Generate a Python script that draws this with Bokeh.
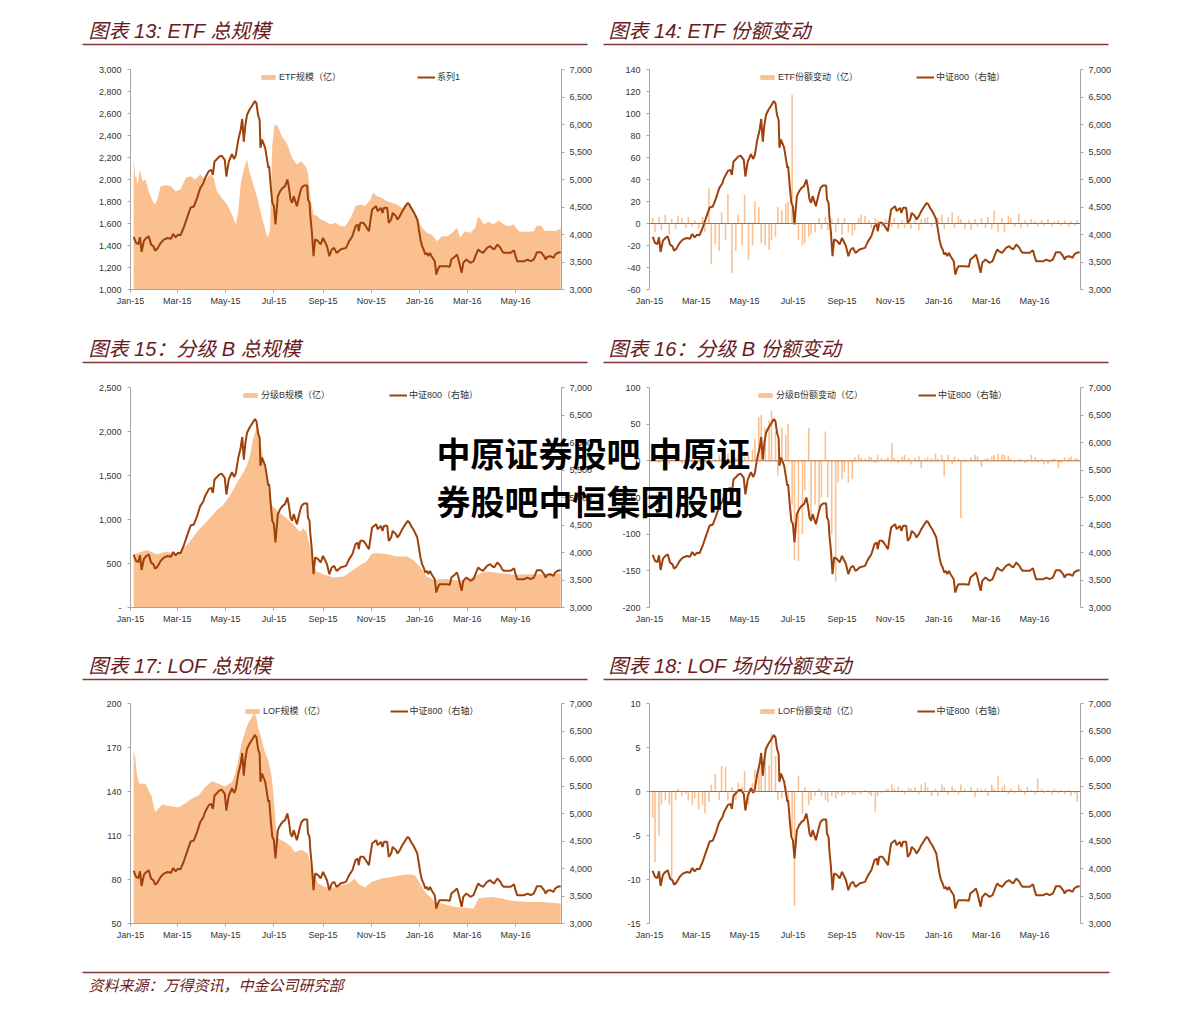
import pandas as pd
from bokeh.plotting import figure
from bokeh.layouts import column, row
from bokeh.models import (Range1d, LinearAxis, FixedTicker, DatetimeTickFormatter,
                          NumeralTickFormatter, Legend, LegendItem, Label, Span)
from bokeh.embed import file_html
from bokeh.resources import INLINE

# ---------------------------------------------------------------- data
tick_dates = ["2015-01-01", "2015-03-01", "2015-05-01", "2015-07-01", "2015-09-01",
              "2015-11-01", "2016-01-01", "2016-03-01", "2016-05-01"]

titles = ["图表 13: ETF 总规模", "图表 14: ETF 份额变动",
          "图表 15：分级 B 总规模", "图表 16：分级 B 份额变动",
          "图表 17: LOF 总规模", "图表 18: LOF 场内份额变动"]
legend_labels = [("ETF规模（亿）", "系列1"),
                 ("ETF份额变动（亿）", "中证800（右轴）"),
                 ("分级B规模（亿）", "中证800（右轴）"),
                 ("分级B份额变动（亿）", "中证800（右轴）"),
                 ("LOF规模（亿）", "中证800（右轴）"),
                 ("LOF份额变动（亿）", "中证800（右轴）")]
source_note = "资料来源：万得资讯，中金公司研究部"
watermark = ["中原证券股吧 中原证", "券股吧中恒集团股吧"]

right_ticks = [3000, 3500, 4000, 4500, 5000, 5500, 6000, 6500, 7000]
ticks_13 = [1000, 1200, 1400, 1600, 1800, 2000, 2200, 2400, 2600, 2800, 3000]
ticks_14 = [-60, -40, -20, 0, 20, 40, 60, 80, 100, 120, 140]
ticks_15 = [0, 500, 1000, 1500, 2000, 2500]
ticks_16 = [-200, -150, -100, -50, 0, 50, 100]
ticks_17 = [50, 80, 110, 140, 170, 200]
ticks_18 = [-15, -10, -5, 0, 5, 10]

# 中证800 (right axis)
csi800 = [
    ("2015-01-05", 3955), ("2015-01-08", 3846), ("2015-01-11", 3828), ("2015-01-13", 3949),
    ("2015-01-15", 3683), ("2015-01-18", 3888), ("2015-01-21", 3937), ("2015-01-24", 3967),
    ("2015-01-27", 3816), ("2015-01-30", 3785), ("2015-02-01", 3707), ("2015-02-04", 3743),
    ("2015-02-08", 3846), ("2015-02-12", 3906), ("2015-02-17", 3937), ("2015-02-21", 3924),
    ("2015-02-24", 4009), ("2015-02-27", 3949), ("2015-03-02", 3997), ("2015-03-05", 3985),
    ("2015-03-09", 4118), ("2015-03-14", 4329), ("2015-03-18", 4492), ("2015-03-22", 4510),
    ("2015-03-26", 4662), ("2015-03-30", 4843), ("2015-04-03", 4933), ("2015-04-05", 5024),
    ("2015-04-10", 5157), ("2015-04-13", 5175), ("2015-04-15", 5084), ("2015-04-17", 5326),
    ("2015-04-20", 5368), ("2015-04-23", 5417), ("2015-04-26", 5435), ("2015-04-30", 5356),
    ("2015-05-02", 5054), ("2015-05-05", 5326), ("2015-05-09", 5459), ("2015-05-12", 5374),
    ("2015-05-14", 5447), ("2015-05-17", 5719), ("2015-05-20", 5900), ("2015-05-22", 6100),
    ("2015-05-24", 5689), ("2015-05-26", 5991), ("2015-05-28", 6172), ("2015-05-31", 6263),
    ("2015-06-04", 6353), ("2015-06-07", 6426), ("2015-06-09", 6384), ("2015-06-11", 6172),
    ("2015-06-13", 6081), ("2015-06-14", 5576), ("2015-06-16", 5727), ("2015-06-20", 5576),
    ("2015-06-24", 5212), ("2015-06-25", 5242), ("2015-06-27", 4879), ("2015-06-29", 4576),
    ("2015-07-01", 4515), ("2015-07-03", 4182), ("2015-07-06", 4697), ("2015-07-09", 4788),
    ("2015-07-12", 4849), ("2015-07-15", 4879), ("2015-07-18", 5000), ("2015-07-20", 4849),
    ("2015-07-22", 4636), ("2015-07-24", 4576), ("2015-07-26", 4697), ("2015-07-28", 4606),
    ("2015-07-30", 4515), ("2015-08-01", 4636), ("2015-08-03", 4758), ("2015-08-05", 4849),
    ("2015-08-08", 4891), ("2015-08-12", 4891), ("2015-08-13", 4636), ("2015-08-15", 4576),
    ("2015-08-16", 4333), ("2015-08-18", 4030), ("2015-08-20", 3606), ("2015-08-22", 3909),
    ("2015-08-26", 3878), ("2015-08-29", 3818), ("2015-09-01", 3939), ("2015-09-03", 3878),
    ("2015-09-06", 3788), ("2015-09-09", 3606), ("2015-09-12", 3727), ("2015-09-15", 3757),
    ("2015-09-18", 3667), ("2015-09-21", 3697), ("2015-09-23", 3727), ("2015-09-30", 3757),
    ("2015-10-04", 3879), ("2015-10-08", 3969), ("2015-10-12", 4151), ("2015-10-15", 4181),
    ("2015-10-16", 4060), ("2015-10-18", 4212), ("2015-10-22", 4212), ("2015-10-25", 4151),
    ("2015-10-29", 4060), ("2015-10-31", 4272), ("2015-11-02", 4454), ("2015-11-07", 4515),
    ("2015-11-09", 4424), ("2015-11-13", 4485), ("2015-11-15", 4394), ("2015-11-17", 4485),
    ("2015-11-21", 4485), ("2015-11-23", 4212), ("2015-11-26", 4272), ("2015-11-28", 4394),
    ("2015-12-02", 4333), ("2015-12-04", 4272), ("2015-12-07", 4333), ("2015-12-10", 4424),
    ("2015-12-14", 4515), ("2015-12-17", 4576), ("2015-12-19", 4545), ("2015-12-21", 4485),
    ("2015-12-25", 4394), ("2015-12-29", 4272), ("2015-12-31", 4091), ("2016-01-02", 3909),
    ("2016-01-04", 3788), ("2016-01-06", 3727), ("2016-01-08", 3636), ("2016-01-10", 3667),
    ("2016-01-12", 3606), ("2016-01-14", 3667), ("2016-01-16", 3606), ("2016-01-20", 3515),
    ("2016-01-22", 3272), ("2016-01-24", 3363), ("2016-01-26", 3424), ("2016-02-04", 3424),
    ("2016-02-08", 3412), ("2016-02-10", 3545), ("2016-02-15", 3606), ("2016-02-17", 3636),
    ("2016-02-19", 3545), ("2016-02-21", 3424), ("2016-02-23", 3303), ("2016-02-25", 3485),
    ("2016-02-29", 3545), ("2016-03-05", 3485), ("2016-03-09", 3515), ("2016-03-13", 3667),
    ("2016-03-15", 3727), ("2016-03-17", 3697), ("2016-03-21", 3667), ("2016-03-26", 3757),
    ("2016-03-30", 3788), ("2016-04-01", 3757), ("2016-04-04", 3727), ("2016-04-08", 3818),
    ("2016-04-12", 3757), ("2016-04-14", 3697), ("2016-04-16", 3667), ("2016-04-25", 3667),
    ("2016-04-29", 3715), ("2016-05-01", 3606), ("2016-05-03", 3515), ("2016-05-12", 3515),
    ("2016-05-16", 3545), ("2016-05-20", 3515), ("2016-05-24", 3545), ("2016-05-26", 3606),
    ("2016-05-28", 3679), ("2016-06-02", 3679), ("2016-06-06", 3606), ("2016-06-08", 3545),
    ("2016-06-10", 3594), ("2016-06-14", 3606), ("2016-06-18", 3575), ("2016-06-20", 3636),
    ("2016-06-23", 3667), ("2016-06-27", 3679),
]

# ETF 规模 (亿)
etf_size = [
    ("2015-01-05", 2182), ("2015-01-07", 2015), ("2015-01-08", 2030), ("2015-01-10", 1955),
    ("2015-01-13", 2091), ("2015-01-16", 1985), ("2015-01-20", 2000), ("2015-01-24", 1894),
    ("2015-01-29", 1803), ("2015-02-01", 1773), ("2015-02-04", 1818), ("2015-02-08", 1939),
    ("2015-02-14", 1948), ("2015-02-21", 1939), ("2015-02-27", 1894), ("2015-03-05", 1909),
    ("2015-03-12", 2015), ("2015-03-18", 2030), ("2015-03-24", 2000), ("2015-03-30", 2045),
    ("2015-04-05", 2000), ("2015-04-12", 2045), ("2015-04-16", 2015), ("2015-04-20", 1894),
    ("2015-04-26", 1833), ("2015-05-03", 1773), ("2015-05-09", 1682), ("2015-05-14", 1591),
    ("2015-05-17", 1712), ("2015-05-20", 1955), ("2015-05-24", 2091), ("2015-05-28", 2182),
    ("2015-05-31", 2076), ("2015-06-05", 1955), ("2015-06-10", 1833), ("2015-06-16", 1652),
    ("2015-06-23", 1470), ("2015-06-26", 1530), ("2015-06-29", 2318), ("2015-07-02", 2500),
    ("2015-07-06", 2485), ("2015-07-11", 2394), ("2015-07-18", 2318), ("2015-07-24", 2197),
    ("2015-07-30", 2136), ("2015-08-04", 2167), ("2015-08-10", 2121), ("2015-08-13", 2061),
    ("2015-08-16", 1833), ("2015-08-20", 1682), ("2015-08-25", 1667), ("2015-08-29", 1636),
    ("2015-09-04", 1621), ("2015-09-10", 1591), ("2015-09-17", 1606), ("2015-09-23", 1576),
    ("2015-09-29", 1576), ("2015-10-06", 1652), ("2015-10-12", 1758), ("2015-10-18", 1773),
    ("2015-10-24", 1758), ("2015-10-31", 1818), ("2015-11-03", 1879), ("2015-11-08", 1848),
    ("2015-11-14", 1833), ("2015-11-21", 1803), ("2015-11-27", 1788), ("2015-12-03", 1773),
    ("2015-12-10", 1742), ("2015-12-16", 1788), ("2015-12-22", 1758), ("2015-12-29", 1652),
    ("2016-01-04", 1561), ("2016-01-10", 1515), ("2016-01-16", 1500), ("2016-01-23", 1439),
    ("2016-01-29", 1485), ("2016-02-05", 1485), ("2016-02-11", 1515), ("2016-02-17", 1561),
    ("2016-02-21", 1470), ("2016-02-27", 1530), ("2016-03-05", 1515), ("2016-03-11", 1561),
    ("2016-03-15", 1667), ("2016-03-22", 1591), ("2016-03-28", 1615), ("2016-04-03", 1591),
    ("2016-04-10", 1627), ("2016-04-16", 1591), ("2016-04-22", 1576), ("2016-04-29", 1591),
    ("2016-05-05", 1530), ("2016-05-11", 1524), ("2016-05-17", 1524), ("2016-05-24", 1530),
    ("2016-05-28", 1585), ("2016-06-03", 1576), ("2016-06-07", 1530), ("2016-06-13", 1536),
    ("2016-06-20", 1530), ("2016-06-27", 1555),
]

# 分级B 规模 (亿)
fb_size = [
    ("2015-01-05", 605), ("2015-01-09", 616), ("2015-01-22", 654), ("2015-02-03", 601),
    ("2015-02-15", 635), ("2015-02-28", 605), ("2015-03-09", 673), ("2015-03-17", 749),
    ("2015-03-26", 862), ("2015-04-03", 938), ("2015-04-11", 1014), ("2015-04-20", 1108),
    ("2015-04-28", 1165), ("2015-05-07", 1278), ("2015-05-15", 1411), ("2015-05-24", 1543),
    ("2015-05-28", 1619), ("2015-06-01", 1732), ("2015-06-05", 1921), ("2015-06-09", 2035),
    ("2015-06-14", 1883), ("2015-06-18", 1657), ("2015-06-22", 1430), ("2015-06-28", 1165),
    ("2015-07-05", 1100), ("2015-07-09", 1070), ("2015-07-17", 1014), ("2015-07-26", 938),
    ("2015-08-03", 862), ("2015-08-07", 900), ("2015-08-11", 862), ("2015-08-15", 711),
    ("2015-08-20", 484), ("2015-08-24", 408), ("2015-09-02", 375), ("2015-09-14", 340),
    ("2015-09-27", 352), ("2015-10-09", 427), ("2015-10-18", 484), ("2015-10-26", 522),
    ("2015-10-31", 598), ("2015-11-04", 616), ("2015-11-12", 616), ("2015-11-21", 605),
    ("2015-12-03", 579), ("2015-12-16", 579), ("2015-12-24", 541), ("2016-01-01", 465),
    ("2016-01-06", 408), ("2016-01-10", 352), ("2016-01-19", 314), ("2016-02-05", 325),
    ("2016-02-21", 303), ("2016-03-05", 333), ("2016-03-18", 390), ("2016-03-27", 408),
    ("2016-04-12", 390), ("2016-04-29", 371), ("2016-05-16", 378), ("2016-06-01", 378),
    ("2016-06-18", 378), ("2016-06-27", 390),
]

# LOF 规模 (亿)
lof_size = [
    ("2015-01-05", 167.8), ("2015-01-07", 163.3), ("2015-01-09", 152.0), ("2015-01-12", 145.2),
    ("2015-01-20", 145.2), ("2015-01-28", 136.1), ("2015-02-01", 125.9), ("2015-02-10", 131.1),
    ("2015-02-22", 129.8), ("2015-03-03", 129.3), ("2015-03-11", 132.0), ("2015-03-19", 135.0),
    ("2015-03-28", 137.2), ("2015-04-05", 142.9), ("2015-04-14", 147.0), ("2015-04-22", 145.2),
    ("2015-04-30", 143.4), ("2015-05-09", 146.3), ("2015-05-13", 152.0), ("2015-05-17", 161.0),
    ("2015-05-21", 172.4), ("2015-05-26", 181.4), ("2015-05-30", 187.1), ("2015-06-03", 190.5),
    ("2015-06-06", 193.9), ("2015-06-09", 190.5), ("2015-06-11", 183.7), ("2015-06-15", 176.9),
    ("2015-06-19", 167.8), ("2015-06-24", 161.0), ("2015-06-28", 150.8), ("2015-06-30", 140.6),
    ("2015-07-02", 127.0), ("2015-07-04", 113.4), ("2015-07-07", 107.8), ("2015-07-15", 105.5),
    ("2015-07-23", 102.1), ("2015-07-27", 98.7), ("2015-08-05", 100.3), ("2015-08-13", 97.6),
    ("2015-08-17", 88.5), ("2015-08-21", 81.7), ("2015-08-26", 77.2), ("2015-09-03", 74.9),
    ("2015-09-16", 74.5), ("2015-09-24", 76.1), ("2015-10-03", 77.2), ("2015-10-11", 80.6),
    ("2015-10-15", 77.2), ("2015-10-24", 74.5), ("2015-11-01", 78.3), ("2015-11-14", 80.6),
    ("2015-11-26", 81.7), ("2015-12-09", 82.9), ("2015-12-17", 83.5), ("2015-12-26", 82.9),
    ("2015-12-30", 79.5), ("2016-01-04", 74.9), ("2016-01-08", 71.5), ("2016-01-12", 69.3),
    ("2016-01-16", 67.0), ("2016-01-20", 64.7), ("2016-01-29", 63.6), ("2016-02-06", 62.5),
    ("2016-02-15", 61.3), ("2016-02-23", 60.9), ("2016-03-09", 60.2), ("2016-03-15", 67.0),
    ("2016-03-24", 67.7), ("2016-04-01", 68.1), ("2016-04-14", 67.0), ("2016-04-22", 65.9),
    ("2016-04-30", 65.4), ("2016-05-17", 64.7), ("2016-06-03", 64.7), ("2016-06-15", 64.1),
    ("2016-06-27", 63.6),
]

# share changes, one value every 3 trading days from 2015-01-05
etf_chg = [5, -8, 6, -6, 8, -10, 4, -5, 7, 5,
           -4, 6, -3, 3, -5, 6, -8, 32, -37, -19,
           -25, 10, -15, 27, -45, -25, 8, -20, 26, -33,
           -20, 20, 15, -18, -20, -24, -15, -12, 15, 12,
           18, 20, 117, 10, -15, -20, -18, -12, -10, -8,
           5, -5, 6, -6, 4, -8, 5, -10, 5, -8,
           -11, -6, 5, 8, 7, 3, -4, 5, 3, -3,
           4, 2, -3, 5, -5, 3, -4, 2, -5, 3,
           -6, 4, 5, 6, -3, 4, 5, 8, -5, 6,
           10, -4, 7, 4, -5, 3, -6, 4, -3, 5,
           -4, 6, -5, 12, -8, 5, -8, 7, 5, -3,
           9, -4, 3, -3, 4, 2, -3, 3, -2, 4,
           -3, 2, 3, -2, 3, -3, 2, -2, 3, -2]
fb_chg = [5, 10, -3, 8, 4, -5, 6, 3, 5, -4,
          2, 6, -2, 3, 4, -3, 5, 6, -4, 3,
          8, 5, -6, 10, -5, 4, 8, -3, 5, 10,
          15, 30, 60, 62, 45, 55, 68, 40, -20, 45,
          35, 50, -60, -135, -137, -100, -40, 45, -80, -60,
          -70, -50, 40, -50, -100, -165, -30, -25, -15, -30,
          -25, 5, 8, 4, 3, 6, 5, -3, 8, 4,
          3, 5, 24, 4, -3, 6, 8, 4, -5, 4,
          6, -10, 3, 5, 4, 10, 3, 8, -21, 8,
          -5, 6, 3, -78, 2, 0, 5, 8, 6, -8,
          3, 4, 6, 8, 10, 9, 8, 7, 3, -2,
          3, 2, -3, 2, 8, 5, -2, 3, -5, -4,
          2, 3, -10, -3, 5, 4, 6, 3, 4, 3]
lof_chg = [-3, -8, -5, -1.5, -1, -1.5, -10, -1, 0.3, -0.5,
           -0.3, -1, -1.5, -0.8, -2, -1.5, -2.5, -1.2, 0.8, 2,
           -1, 2.9, 2.8, -1, 0.5, -1, 1, 0.5, 2.3, -1.5,
           1, 2.5, 3.2, 2.8, 5, 3, 6.6, 4, -1, -0.8,
           0.5, -1, -5, -13, 1.8, -2.5, 0.5, -1.5, -1, -0.5,
           0.3, -0.5, -1, -1.2, -0.5, -0.8, -0.3, -0.5, -0.3, -0.2,
           -0.3, -0.4, -0.2, -0.3, 0.2, -0.3, -0.5, -2.3, -0.5, -0.2,
           0.2, 0.3, 0.8, 0.3, 0.5, 0.2, -0.3, 0.4, 0.3, 0.5,
           -0.3, 0.8, 1.0, 0.5, -0.5, 0.3, -0.5, 0.8, 0.5, -0.4,
           0.6, 0.3, -0.3, 0.8, 0.3, 0, 0.5, -0.6, 0.4, 0.3,
           0.3, -0.5, 0.8, 0.3, 1.7, 0.5, 0.8, -0.3, 0.3, -0.2,
           0.8, 0.3, -0.4, 0.5, 0.2, -0.3, 1.5, 0.3, -0.2, 0.2,
           -0.3, 0.3, -0.2, 0.2, -0.3, 0.2, -0.5, -0.2, -1.2, -0.4]

# ---------------------------------------------------------------- style
FONT = "Liberation Sans, Noto Sans CJK SC"
CJK = "Noto Sans CJK SC"
AREA = "#fac090"
LINE = "#9e410b"
ZERO = "#b8682e"
AXIS = "#a6a6a6"
LABEL_C = "#333333"
TITLE_C = "#6a1b20"
RULE_C = "#80383b"

X0 = pd.Timestamp("2015-01-01")
X1 = pd.Timestamp("2016-06-28")
DAY_MS = 86400000
BAR_W = 2 * DAY_MS
FRAME_W = 431
FRAME_H = 220


def pairs(data):
    return pd.to_datetime([d for d, _ in data]), [v for _, v in data]


csi_x, csi_y = pairs(csi800)
tick_ms = [pd.Timestamp(t).value / 1e6 for t in tick_dates]


def style_axis(ax, show_line=True):
    ax.axis_line_color = AXIS if show_line else None
    ax.axis_line_width = 1
    ax.major_tick_line_color = AXIS if show_line else None
    ax.major_tick_out = 3
    ax.major_tick_in = 0
    ax.minor_tick_line_color = None
    ax.major_label_text_font = FONT
    ax.major_label_text_font_size = "9px"
    ax.major_label_text_color = LABEL_C


def chart(kind, width, bl, br, bt, bb, y0, y1, yticks, mx, my, labels, lx, lsp,
          overrides=None):
    p = figure(width=width, height=bt + FRAME_H + bb, x_axis_type="datetime",
               x_range=Range1d(X0, X1), y_range=Range1d(y0, y1),
               output_backend="svg", toolbar_location=None,
               min_border_left=bl, min_border_right=br,
               min_border_top=bt, min_border_bottom=bb)
    p.outline_line_color = None
    p.xgrid.visible = False
    p.ygrid.visible = False
    p.extra_y_ranges = {"right": Range1d(3000, 7000)}

    xa = p.xaxis[0]
    style_axis(xa, show_line=(kind == "area"))
    xa.ticker = FixedTicker(ticks=tick_ms)
    fmt = "%b-%y"
    xa.formatter = DatetimeTickFormatter(microseconds=fmt, milliseconds=fmt, seconds=fmt,
                                         minsec=fmt, minutes=fmt, hourmin=fmt, hours=fmt,
                                         days=fmt, months=fmt, years=fmt)
    xa.major_label_standoff = 3

    ya = p.yaxis[0]
    style_axis(ya)
    ya.ticker = FixedTicker(ticks=yticks)
    ya.formatter = NumeralTickFormatter(format="0,0")
    ya.major_label_standoff = 6
    if overrides:
        ya.major_label_overrides = overrides

    ra = LinearAxis(y_range_name="right", ticker=FixedTicker(ticks=right_ticks),
                    formatter=NumeralTickFormatter(format="0,0"))
    style_axis(ra)
    ra.major_label_standoff = 5
    p.add_layout(ra, "right")

    if kind == "area":
        r1 = p.varea(x=mx, y1=y0, y2=my, fill_color=AREA, fill_alpha=1)
    else:
        r1 = p.vbar(x=mx, top=my, bottom=0, width=BAR_W, fill_color=AREA,
                    line_color=None)
        p.add_layout(Span(location=0, dimension="width", line_color=ZERO, line_width=1))
    r2 = p.line(csi_x, csi_y, y_range_name="right", line_color=LINE, line_width=2)

    legend = Legend(items=[LegendItem(label=labels[0], renderers=[r1]),
                           LegendItem(label=labels[1], renderers=[r2])],
                    location=(lx, 206), orientation="horizontal", spacing=lsp,
                    padding=0, margin=0, border_line_color=None,
                    background_fill_alpha=0, glyph_width=18, glyph_height=6,
                    label_standoff=2, label_height=8, label_text_font=FONT,
                    label_text_font_size="9px", label_text_color=LABEL_C)
    p.add_layout(legend)
    return p


def band(height, texts, rule_y, rules, size="20px", margin=None):
    kw = {} if margin is None else {"margin": margin}
    p = figure(width=1191, height=height, x_range=Range1d(0, 1191),
               y_range=Range1d(height, 0), output_backend="svg",
               toolbar_location=None, min_border=0,
               x_axis_location=None, y_axis_location=None, **kw)
    p.outline_line_color = None
    p.grid.visible = False
    for x, y, t in texts:
        p.add_layout(Label(x=x, y=y, text=t, text_font=FONT, text_font_style="italic",
                           text_font_size=size, text_color=TITLE_C,
                           text_baseline="middle", text_align="left"))
    if rules:
        p.segment(x0=[r[0] for r in rules], y0=[rule_y] * len(rules),
                  x1=[r[1] for r in rules], y1=[rule_y] * len(rules),
                  line_color=RULE_C, line_width=1.5)
    return p


LW, RW = 600, 591
LB, LR = 130, LW - 130 - FRAME_W
RB, RR = 49, RW - 49 - FRAME_W

ex, ey = pairs(etf_size)
fx, fy = pairs(fb_size)
lx_, ly_ = pairs(lof_size)
bars_x = pd.bdate_range("2015-01-05", periods=len(etf_chg), freq="3B")
bars_fx = pd.bdate_range("2015-01-05", periods=len(fb_chg), freq="3B")
bars_lx = pd.bdate_range("2015-01-05", periods=len(lof_chg), freq="3B")

p13 = chart("area", LW, LB, LR, 19, 31, 1000, 3000, ticks_13, ex, ey, legend_labels[0], 129, 76)
p14 = chart("bar", RW, RB, RR, 19, 31, -60, 140, ticks_14, bars_x, etf_chg, legend_labels[1], 109, 58)
p15 = chart("area", LW, LB, LR, 17, 33, 0, 2500, ticks_15, fx, fy, legend_labels[2], 111, 59,
            overrides={0: "-"})
p16 = chart("bar", RW, RB, RR, 17, 33, -200, 100, ticks_16, bars_fx, fb_chg, legend_labels[3], 107, 55)
p17 = chart("area", LW, LB, LR, 13, 37, 50, 200, ticks_17, lx_, ly_, legend_labels[4], 113, 64)
p18 = chart("bar", RW, RB, RR, 13, 37, -15, 10, ticks_18, bars_lx, lof_chg, legend_labels[5], 109, 58)

# transparent overlay carrying the watermark across charts 15 and 16
wm = figure(width=1191, height=270, x_range=Range1d(0, 1191), y_range=Range1d(270, 0),
            output_backend="svg", toolbar_location=None, min_border=0,
            x_axis_location=None, y_axis_location=None, margin=(-270, 0, 0, 0))
wm.outline_line_color = None
wm.grid.visible = False
wm.background_fill_alpha = 0
wm.border_fill_alpha = 0
for txt, cy in zip(watermark, (82, 130)):
    wm.add_layout(Label(x=436, y=cy, text=txt, text_font=CJK, text_font_style="bold",
                        text_font_size="34px", text_color="#000000",
                        text_baseline="middle", text_align="left"))

t1 = band(50, [(88, 30, titles[0]), (608, 30, titles[1])], 44, [(82, 587), (603, 1108)])
t2 = band(50, [(88, 28, titles[2]), (608, 28, titles[3])], 42, [(82, 587), (603, 1108)])
t3 = band(50, [(88, 25, titles[4]), (608, 25, titles[5])], 39, [(82, 587), (603, 1108)])
foot = band(52, [(88, 25, source_note)], 12, [(82, 1109)], size="15px")

layout = column(t1, row(p13, p14), t2, row(p15, p16), wm, t3, row(p17, p18), foot)

with open("out.html", "w", encoding="utf-8") as f:
    f.write(file_html(layout, INLINE, title="ETF 分级B LOF"))
